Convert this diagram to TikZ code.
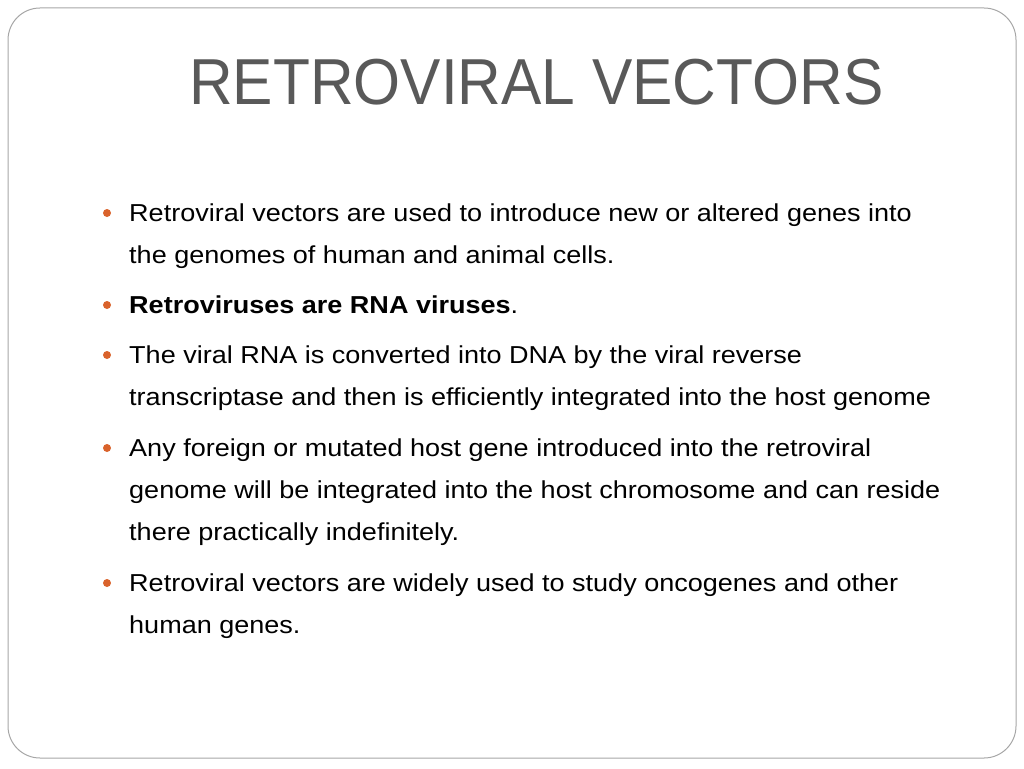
\documentclass[tikz,border=0pt]{standalone}
\usepackage{fontspec}
\setmainfont{Liberation Sans}
\definecolor{tgray}{HTML}{595959}
\definecolor{borange}{HTML}{D9622B}
\begin{document}
\begin{tikzpicture}[x=1pt,y=-1pt,
  txt/.style={anchor=base west,inner sep=0pt,font=\fontsize{24.5}{29}\selectfont,text=black,xscale=1.103},
  bul/.style={circle,fill=borange,inner sep=0pt,minimum size=8pt}]
\useasboundingbox (0,0) rectangle (1024,768);
\draw[gray!70,line width=1pt,rounded corners=32pt] (8,8) rectangle (1016,758);
\node[anchor=base west,inner sep=0pt,font=\fontsize{65}{70}\selectfont,text=tgray,xscale=0.93] (title) at (189,104) {RETROVIRAL VECTORS};
\foreach \n/\y in {1/213,2/305,3/355,4/448,5/583}{\node[bul] (b\n) at (107,\y) {};}
\node[txt] (l1) at (129,221) {Retroviral vectors are used to introduce new or altered genes into};
\node[txt] (l2) at (129,263) {the genomes of human and animal cells.};
\node[txt] (l3) at (129,313) {\textbf{Retroviruses are RNA viruses}.};
\node[txt] (l4) at (129,363) {The viral RNA is converted into DNA by the viral reverse};
\node[txt] (l5) at (129,405) {transcriptase and then is efficiently integrated into the host genome};
\node[txt] (l6) at (129,456) {Any foreign or mutated host gene introduced into the retroviral};
\node[txt] (l7) at (129,498) {genome will be integrated into the host chromosome and can reside};
\node[txt] (l8) at (129,540) {there practically indefinitely.};
\node[txt] (l9) at (129,591) {Retroviral vectors are widely used to study oncogenes and other};
\node[txt] (l10) at (129,633) {human genes.};
\end{tikzpicture}
\end{document}
